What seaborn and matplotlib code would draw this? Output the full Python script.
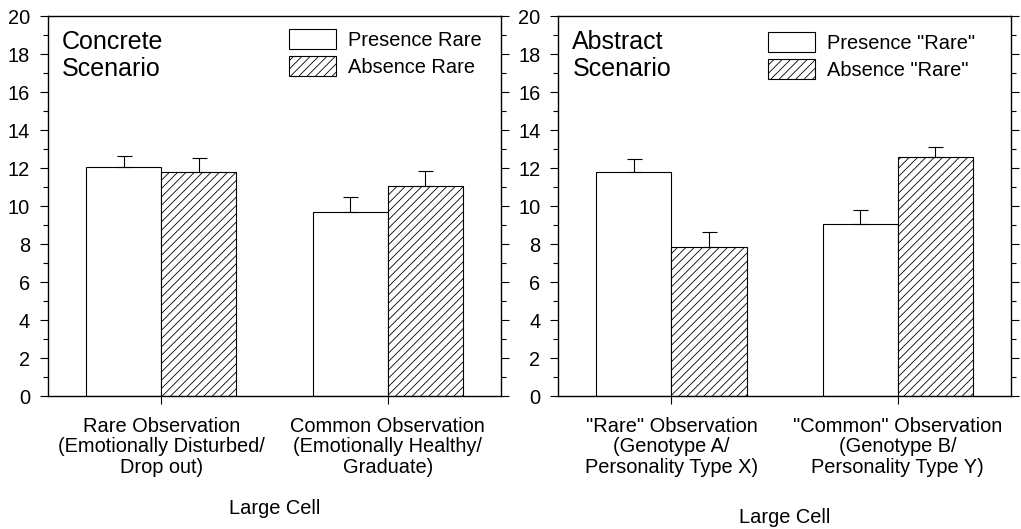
import pandas as pd
import seaborn as sns
import matplotlib.pyplot as plt
from matplotlib.ticker import MultipleLocator

# values (bar means and upper error bar sizes)
conditions = ['Presence', 'Absence']

concrete_obs = ['Rare Observation\n(Emotionally Disturbed/\nDrop out)',
                'Common Observation\n(Emotionally Healthy/\nGraduate)']
concrete_presence = [12.05, 9.68]
concrete_presence_se = [0.60, 0.78]
concrete_absence = [11.77, 11.07]
concrete_absence_se = [0.76, 0.79]
concrete_legend = ['Presence Rare', 'Absence Rare']

abstract_obs = ['"Rare" Observation\n(Genotype A/\nPersonality Type X)',
                '"Common" Observation\n(Genotype B/\nPersonality Type Y)']
abstract_presence = [11.81, 9.05]
abstract_presence_se = [0.68, 0.74]
abstract_absence = [7.86, 12.56]
abstract_absence_se = [0.79, 0.56]
abstract_legend = ['Presence "Rare"', 'Absence "Rare"']

sns.set_style('ticks')
plt.rcParams['font.family'] = ['Liberation Sans', 'DejaVu Sans']
plt.rcParams['text.color'] = 'black'
plt.rcParams['axes.labelcolor'] = 'black'
plt.rcParams['hatch.linewidth'] = 0.6
plt.rcParams['axes.linewidth'] = 1.0

FS = 14.4


def draw_panel(ax, obs, pres, pres_se, absn, absn_se, legend_labels, title,
               leg_x, leg_y, labelpad):
    df = pd.DataFrame({
        'obs': obs + obs,
        'cond': [conditions[0]] * len(obs) + [conditions[1]] * len(obs),
        'value': pres + absn,
    })
    sns.barplot(data=df, x='obs', y='value', hue='cond', order=obs,
                hue_order=conditions, palette=['white', 'white'], saturation=1,
                edgecolor='black', linewidth=0.8, width=0.664, errorbar=None,
                legend=False, ax=ax)

    for bar in ax.containers[1]:
        bar.set_hatch('////')

    # upper-only error bars centred on each bar
    for container, vals, se in zip(ax.containers, [pres, absn], [pres_se, absn_se]):
        xs = [b.get_x() + b.get_width() / 2 for b in container]
        ax.errorbar(xs, vals, yerr=[[0] * len(se), se], fmt='none',
                    ecolor='black', elinewidth=0.8, capsize=5.4, capthick=0.8)

    ax.set_ylim(0, 20)
    ax.set_xlim(-0.5, 1.5)
    ax.yaxis.set_major_locator(MultipleLocator(2))
    ax.yaxis.set_minor_locator(MultipleLocator(1))
    ax.tick_params(axis='y', which='both', direction='out', left=True, right=True,
                   labelsize=FS, pad=7, colors='black')
    ax.tick_params(axis='y', which='major', length=5.8, width=0.8)
    ax.tick_params(axis='y', which='minor', length=3.6, width=0.8)
    ax.tick_params(axis='x', direction='out', length=5.8, width=0.8,
                   labelsize=FS, pad=9, colors='black')
    for lab in ax.get_xticklabels():
        lab.set_linespacing(1.1)
    ax.set_ylabel('')
    ax.set_xlabel('Large Cell', fontsize=FS, labelpad=labelpad)

    for s in ax.spines.values():
        s.set_color('black')
        s.set_linewidth(1.0)

    ax.text(0.031, 0.962, title, transform=ax.transAxes, fontsize=18,
            va='top', ha='left', linespacing=1.15)
    ax.legend(ax.containers, legend_labels, loc='upper left',
              bbox_to_anchor=(leg_x, leg_y), frameon=False, fontsize=FS,
              handlelength=2.35, handleheight=1.17, labelspacing=0.3,
              handletextpad=0.6, borderpad=0, borderaxespad=0)


fig = plt.figure(figsize=(10.21, 5.29), dpi=100)
ax1 = fig.add_axes([0.047, 0.2514, 0.4437, 0.7183])
ax2 = fig.add_axes([0.5468, 0.2514, 0.4434, 0.7183])

draw_panel(ax1, concrete_obs, concrete_presence, concrete_presence_se,
           concrete_absence, concrete_absence_se, concrete_legend,
           'Concrete\nScenario', 0.531, 0.965, 16)
draw_panel(ax2, abstract_obs, abstract_presence, abstract_presence_se,
           abstract_absence, abstract_absence_se, abstract_legend,
           'Abstract\nScenario', 0.463, 0.957, 22.5)

fig.savefig('out.png', dpi=100, facecolor='white')
